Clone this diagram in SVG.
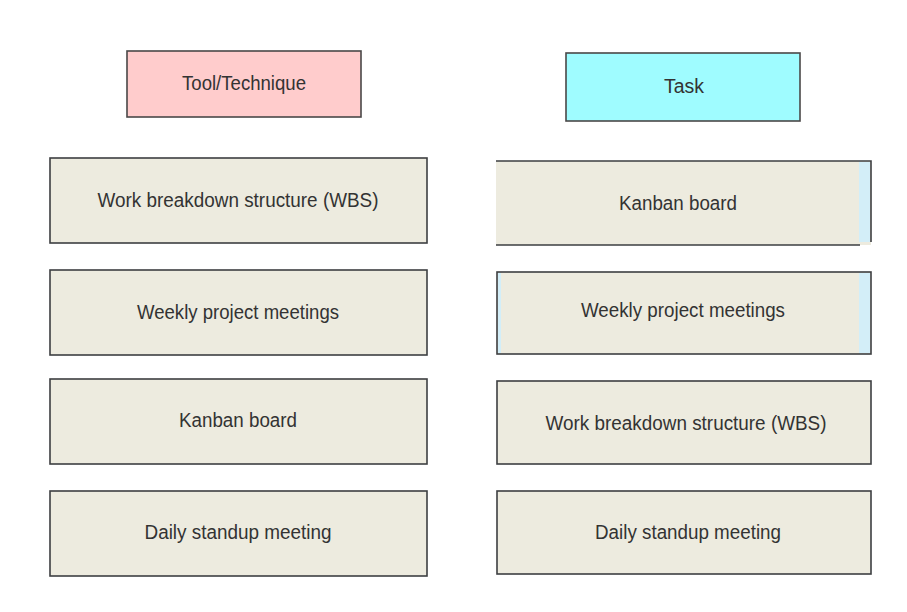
<svg xmlns="http://www.w3.org/2000/svg" width="907" height="612" viewBox="0 0 907 612">
<style>
.box{fill:#edebdf;stroke:#3d3f41;stroke-width:1.6}
.hdr{stroke:#4a4848;stroke-width:1.6}
.t{font-family:"Liberation Sans",Arial,sans-serif;font-size:20px;fill:#333;text-anchor:middle;dominant-baseline:central}
.strip{fill:#d3eef8}
</style>
<rect width="907" height="612" fill="#fff"/>
<g id="hdr-tool"><rect class="hdr" x="127" y="51" width="234" height="66" fill="#ffcccc"/><text class="t" x="244" y="83" textLength="124" lengthAdjust="spacingAndGlyphs">Tool/Technique</text></g>
<g id="hdr-task"><rect class="hdr" x="566" y="53" width="234" height="68" fill="#9ffcff"/><text class="t" x="684" y="86" textLength="40" lengthAdjust="spacingAndGlyphs">Task</text></g>
<g id="l1"><rect class="box" x="50" y="158" width="377" height="85"/><text class="t" x="238" y="200" textLength="281" lengthAdjust="spacingAndGlyphs">Work breakdown structure (WBS)</text></g>
<g id="l2"><rect class="box" x="50" y="270" width="377" height="85"/><text class="t" x="238" y="312" textLength="202" lengthAdjust="spacingAndGlyphs">Weekly project meetings</text></g>
<g id="l3"><rect class="box" x="50" y="379" width="377" height="85"/><text class="t" x="238" y="420" textLength="118" lengthAdjust="spacingAndGlyphs">Kanban board</text></g>
<g id="l4"><rect class="box" x="50" y="491" width="377" height="85"/><text class="t" x="238" y="532" textLength="187" lengthAdjust="spacingAndGlyphs">Daily standup meeting</text></g>
<g id="r1"><rect class="box" x="496" y="161" width="375" height="84" style="stroke:none"/><rect class="strip" x="859" y="162" width="11" height="80"/><path d="M496 161H871V242M496 245H860" fill="none" stroke="#3d3f41" stroke-width="1.6"/><text class="t" x="678" y="203" textLength="118" lengthAdjust="spacingAndGlyphs">Kanban board</text></g>
<g id="r2"><rect class="box" x="497" y="272" width="374" height="82"/><rect class="strip" x="859" y="273" width="11" height="80"/><rect class="strip" x="498" y="273" width="3" height="80"/><text class="t" x="683" y="310" textLength="204" lengthAdjust="spacingAndGlyphs">Weekly project meetings</text></g>
<g id="r3"><rect class="box" x="497" y="381" width="374" height="83"/><text class="t" x="686" y="423" textLength="281" lengthAdjust="spacingAndGlyphs">Work breakdown structure (WBS)</text></g>
<g id="r4"><rect class="box" x="497" y="491" width="374" height="83"/><text class="t" x="688" y="532" textLength="186" lengthAdjust="spacingAndGlyphs">Daily standup meeting</text></g>
<g id="connectors"></g>
</svg>
